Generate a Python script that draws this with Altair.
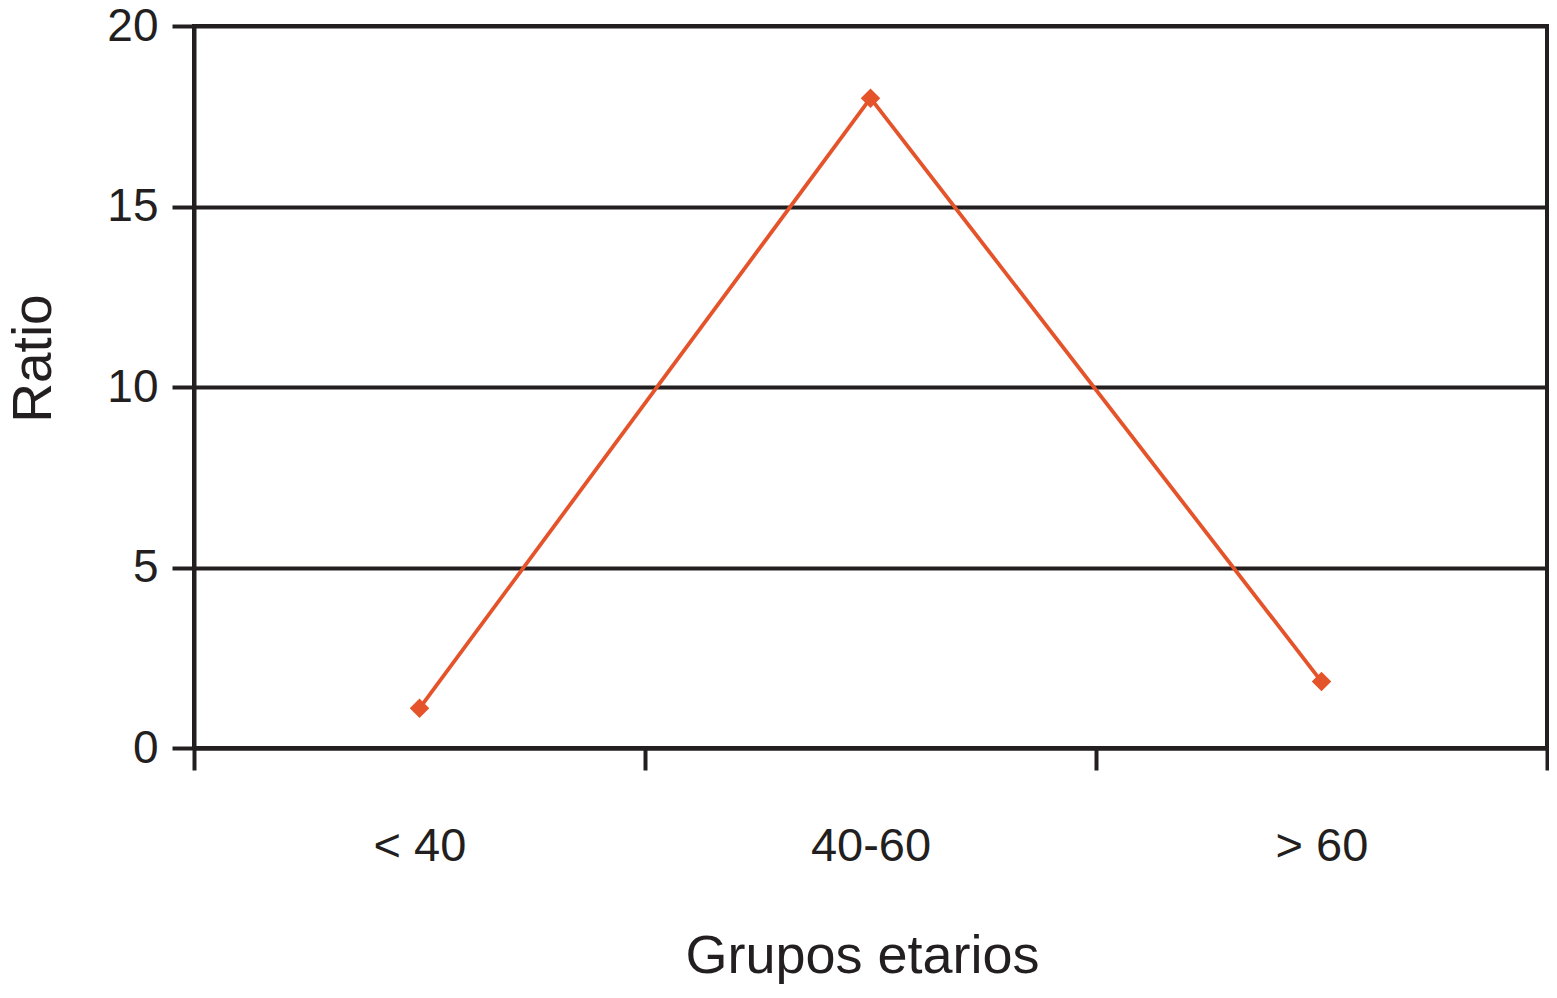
import altair as alt
import pandas as pd

categories = ["< 40", "40-60", "> 60"]
ratios = [1.1, 18.0, 1.84]
y_ticks = [0, 5, 10, 15, 20]

df = pd.DataFrame({"grupo": categories, "ratio": ratios})

FONT = "Liberation Sans"
INK = "#231f20"
ORANGE = "#e5532a"

PLOT_W = 1353
PLOT_H = 722

x_enc = alt.X(
    "grupo:N",
    sort=categories,
    bandPosition=0.5,
    scale=alt.Scale(type="band", paddingInner=0, paddingOuter=0),
    axis=alt.Axis(
        title="Grupos etarios",
        labelAngle=0,
        tickBand="extent",
        grid=False,
        domainColor=INK,
        domainWidth=4,
        tickColor=INK,
        tickWidth=4,
        tickSize=22,
        labelFont=FONT,
        labelFontSize=47,
        labelColor=INK,
        labelBaseline="alphabetic",
        labelPadding=90,
        titleFont=FONT,
        titleFontSize=54,
        titleFontWeight="normal",
        titleColor=INK,
        titleBaseline="alphabetic",
        titleAlign="center",
        titleX=668,
        titleY=224,
    ),
)

y_enc = alt.Y(
    "ratio:Q",
    scale=alt.Scale(domain=[0, 20], nice=False),
    axis=alt.Axis(
        title="Ratio",
        values=y_ticks,
        grid=True,
        gridColor=INK,
        gridWidth=4,
        gridOpacity=1,
        domainColor=INK,
        domainWidth=4,
        tickColor=INK,
        tickWidth=4,
        tickSize=22,
        labelFont=FONT,
        labelFontSize=46,
        labelColor=INK,
        labelPadding=14,
        titleFont=FONT,
        titleFontSize=55,
        titleFontWeight="normal",
        titleColor=INK,
        titleAngle=-90,
        titleBaseline="alphabetic",
        titleAlign="center",
        titleX=-144,
        titleY=332,
    ),
)

line = alt.Chart(df).mark_line(color=ORANGE, strokeWidth=3.8).encode(x=x_enc, y=y_enc)
points = alt.Chart(df).mark_point(
    shape="diamond", filled=True, color=ORANGE, size=380, opacity=1
).encode(x=x_enc, y=y_enc)

chart = (
    alt.layer(line, points)
    .properties(
        width=PLOT_W,
        height=PLOT_H,
        autosize=alt.AutoSizeParams(type="none"),
        padding={"left": 186, "top": 18, "right": 2, "bottom": 238},
        background="white",
    )
    .configure_view(stroke=INK, strokeWidth=4)
)

chart.save("out.html", embed_options={"renderer": "svg", "actions": False})
